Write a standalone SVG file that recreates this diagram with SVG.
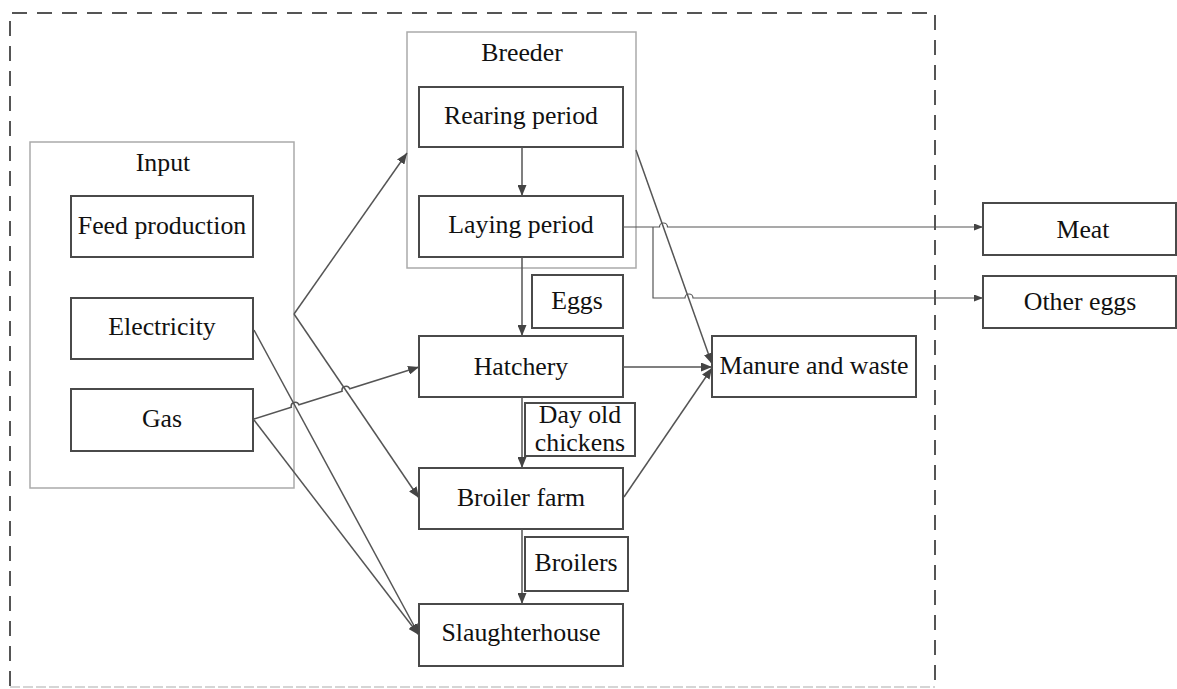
<svg xmlns="http://www.w3.org/2000/svg" width="1177" height="689" viewBox="0 0 1177 689">
<style>
.box{fill:#fff;stroke:#4a4a4a;stroke-width:2}
.cont{fill:none;stroke:#aaa;stroke-width:1.5}
.t{font-family:"Liberation Serif","Times New Roman",serif;font-size:25.8px;fill:#111;text-anchor:middle}
.c{fill:none;stroke:#555;stroke-width:1.5}
.c2{fill:none;stroke:#555;stroke-width:1.2}
</style>
<defs>
<marker id="ah" markerWidth="11" markerHeight="9" refX="11" refY="4.5" orient="auto" markerUnits="userSpaceOnUse"><path d="M0,0 L11,4.5 L0,9 z" fill="#444"/></marker>
<marker id="as" markerWidth="9" markerHeight="7" refX="9" refY="3.5" orient="auto" markerUnits="userSpaceOnUse"><path d="M0,0 L9,3.5 L0,7 z" fill="#444"/></marker>
</defs>
<rect width="1177" height="689" fill="#fff"/>
<g id="frame">
<path d="M10,686 L10,13 L935,13 L935,686" fill="none" stroke="#555" stroke-width="2" stroke-dasharray="15 10"/>
<path d="M10,687 L935,687" fill="none" stroke="#c8c8c8" stroke-width="1.5" stroke-dasharray="10 3"/>
</g>
<g id="input">
<rect class="cont" x="30" y="142" width="264" height="346"/>
<text class="t" x="163" y="171">Input</text>
</g>
<g id="feed"><rect class="box" x="71" y="196" width="182" height="61"/><text class="t" x="162" y="234">Feed production</text></g>
<g id="electricity"><rect class="box" x="71" y="298" width="182" height="61"/><text class="t" x="162" y="335">Electricity</text></g>
<g id="gas"><rect class="box" x="71" y="389" width="182" height="62"/><text class="t" x="162" y="427">Gas</text></g>
<g id="breeder">
<rect class="cont" x="407" y="32" width="229" height="236"/>
<text class="t" x="522" y="61">Breeder</text>
</g>
<g id="rearing"><rect class="box" x="419" y="87" width="204" height="60"/><text class="t" x="521" y="124">Rearing period</text></g>
<g id="laying"><rect class="box" x="419" y="196" width="204" height="61"/><text class="t" x="521" y="233">Laying period</text></g>
<g id="eggs"><rect class="box" x="532" y="275" width="91" height="53"/><text class="t" x="577" y="309">Eggs</text></g>
<g id="hatchery"><rect class="box" x="419" y="336" width="204" height="61"/><text class="t" x="521" y="375">Hatchery</text></g>
<g id="dayold"><rect class="box" x="525" y="403" width="110" height="53"/><text class="t" x="580" y="423">Day old</text><text class="t" x="580" y="451">chickens</text></g>
<g id="broilerfarm"><rect class="box" x="419" y="468" width="204" height="61"/><text class="t" x="521" y="506">Broiler farm</text></g>
<g id="broilers"><rect class="box" x="525" y="537" width="103" height="54"/><text class="t" x="576" y="571">Broilers</text></g>
<g id="slaughterhouse"><rect class="box" x="419" y="604" width="204" height="62"/><text class="t" x="521" y="641">Slaughterhouse</text></g>
<g id="manure"><rect class="box" x="712" y="336" width="204" height="61"/><text class="t" x="814" y="374">Manure and waste</text></g>
<g id="meat"><rect class="box" x="983" y="203" width="193" height="52"/><text class="t" x="1083" y="238">Meat</text></g>
<g id="othereggs"><rect class="box" x="983" y="276" width="193" height="52"/><text class="t" x="1080" y="310">Other eggs</text></g>
<g id="connectors">
<path class="c" d="M294,314 L407,153" marker-end="url(#ah)"/>
<path class="c" d="M294,314 L419,498" marker-end="url(#ah)"/>
<path class="c" d="M254,330 L419,635" marker-end="url(#ah)"/>
<path class="c" d="M254,420 L419,635" marker-end="url(#ah)"/>
<path class="c" d="M254,419 L291.3,407.2 A4,4 0 0 1 298.9,404.8 L342.1,391.2 A4,4 0 0 1 349.7,388.8 L419,367" marker-end="url(#ah)"/>
<path class="c" d="M522,147 L522,196" marker-end="url(#ah)"/>
<path class="c" d="M522,257 L522,336" marker-end="url(#ah)"/>
<path class="c" d="M522,397 L522,468" marker-end="url(#ah)"/>
<path class="c" d="M522,529 L522,604" marker-end="url(#ah)"/>
<path class="c" d="M636,150 L712,364" marker-end="url(#ah)"/>
<path class="c" d="M623,367 L712,367" marker-end="url(#ah)"/>
<path class="c" d="M624,497 L712,368" marker-end="url(#ah)"/>
<path class="c2" d="M623,227 L659.5,227 A4,4 0 0 1 667.5,227 L983,227" marker-end="url(#as)"/>
<path class="c2" d="M653,227 L653,298 L685,298 A4,4 0 0 1 693,298 L983,298" marker-end="url(#as)"/>
</g>
</svg>
